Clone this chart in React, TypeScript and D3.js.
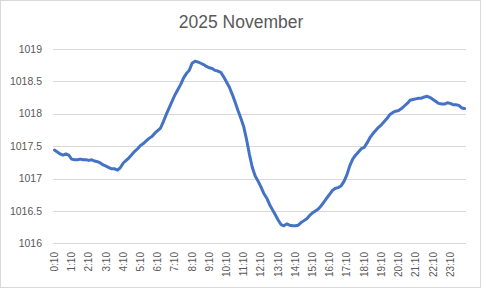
import React, { useEffect, useRef } from "react";
import * as d3 from "d3";

const title = "2025 November";
const yTicks = [1016, 1016.5, 1017, 1017.5, 1018, 1018.5, 1019];
const tickLabels = [
  "0:10", "1:10", "2:10", "3:10", "4:10", "5:10", "6:10", "7:10", "8:10", "9:10", "10:10", "11:10",
  "12:10", "13:10", "14:10", "15:10", "16:10", "17:10", "18:10", "19:10", "20:10", "21:10", "22:10", "23:10",
];
const categories: string[] = [];
for (let h = 0; h < 24; h++) {
  for (let m = 10; m <= 60; m += 10) {
    categories.push(m === 60 ? `${(h + 1) % 24}:00` : `${h}:${m}`);
  }
}
const pressure = [
  1017.44, 1017.41, 1017.38, 1017.36, 1017.38, 1017.36,
  1017.30, 1017.29, 1017.29, 1017.30, 1017.29, 1017.29,
  1017.28, 1017.29, 1017.27, 1017.26, 1017.24, 1017.21,
  1017.19, 1017.17, 1017.15, 1017.15, 1017.13, 1017.17,
  1017.24, 1017.28, 1017.32, 1017.37, 1017.42, 1017.46,
  1017.51, 1017.54, 1017.58, 1017.62, 1017.65, 1017.70,
  1017.74, 1017.78, 1017.88, 1017.99, 1018.09, 1018.19,
  1018.29, 1018.37, 1018.45, 1018.55, 1018.62, 1018.67,
  1018.78, 1018.81, 1018.80, 1018.78, 1018.76, 1018.73,
  1018.71, 1018.70, 1018.67, 1018.66, 1018.64, 1018.57,
  1018.49, 1018.41, 1018.30, 1018.18, 1018.05, 1017.93,
  1017.80, 1017.60, 1017.37, 1017.17, 1017.04, 1016.96,
  1016.87, 1016.77, 1016.70, 1016.60, 1016.52, 1016.44,
  1016.36, 1016.29, 1016.27, 1016.30, 1016.28, 1016.27,
  1016.27, 1016.28, 1016.32, 1016.35, 1016.38, 1016.43,
  1016.47, 1016.50, 1016.53, 1016.58, 1016.64, 1016.70,
  1016.76, 1016.82, 1016.85, 1016.86, 1016.89, 1016.96,
  1017.06, 1017.20, 1017.30, 1017.36, 1017.41, 1017.46,
  1017.48, 1017.55, 1017.63, 1017.69, 1017.74, 1017.79,
  1017.83, 1017.88, 1017.93, 1017.99, 1018.02, 1018.04,
  1018.05, 1018.08, 1018.12, 1018.16, 1018.21, 1018.22,
  1018.23, 1018.24, 1018.24, 1018.26, 1018.27, 1018.25,
  1018.22, 1018.19, 1018.16, 1018.15, 1018.15, 1018.17,
  1018.16, 1018.14, 1018.14, 1018.13, 1018.09, 1018.08,
];

const W = 481;
const H = 288;
const FONT = "'Liberation Sans', Arial, sans-serif";

export default function App() {
  const ref = useRef<SVGSVGElement>(null);
  useEffect(() => {
    const svg = d3.select(ref.current!);
    svg.selectAll("*").remove();

    const x = d3.scaleBand<string>().domain(categories).range([53, 466]);
    const y = d3.scaleLinear().domain([1016, 1019]).range([243.3, 49]);
    const cx = (c: string) => (x(c) as number) + x.bandwidth() / 2;

    svg.append("rect")
      .attr("x", 0.5).attr("y", 0.5).attr("width", W - 1).attr("height", H - 1)
      .attr("fill", "#fff").attr("stroke", "#d9d9d9");

    svg.append("text")
      .attr("x", 241).attr("y", 28)
      .attr("text-anchor", "middle")
      .attr("font-family", FONT).attr("font-size", 17.5)
      .attr("fill", "#595959")
      .text(title);

    const grid = svg.append("g");
    yTicks.forEach((t) => {
      grid.append("line")
        .attr("x1", 53).attr("x2", 466)
        .attr("y1", Math.round(y(t)) + 0.5).attr("y2", Math.round(y(t)) + 0.5)
        .attr("stroke", "#d9d9d9").attr("stroke-width", 1);
      grid.append("text")
        .attr("x", 42).attr("y", y(t))
        .attr("dy", "0.35em")
        .attr("text-anchor", "end")
        .attr("font-family", FONT).attr("font-size", 10.5)
        .attr("fill", "#595959")
        .text(String(t));
    });

    const labelIdx = tickLabels.map((l) => categories.indexOf(l));
    labelIdx.forEach((idx, k) => {
      const c = categories[idx];
      svg.append("text")
        .attr("transform", `translate(${cx(c) + 3.5},252) rotate(-90)`)
        .attr("text-anchor", "end")
        .attr("font-family", FONT).attr("font-size", 10)
        .attr("fill", "#595959")
        .text(tickLabels[k]);
    });

    const line = d3.line<number>()
      .x((_, i) => cx(categories[i]))
      .y((d) => y(d));

    svg.append("path")
      .datum(pressure)
      .attr("d", line)
      .attr("fill", "none")
      .attr("stroke", "#4472C4")
      .attr("stroke-width", 3)
      .attr("stroke-linejoin", "round")
      .attr("stroke-linecap", "round");
  }, []);

  return (
    <svg
      ref={ref}
      width={W}
      height={H}
      style={{ position: "absolute", left: 0, top: 0 }}
    />
  );
}
